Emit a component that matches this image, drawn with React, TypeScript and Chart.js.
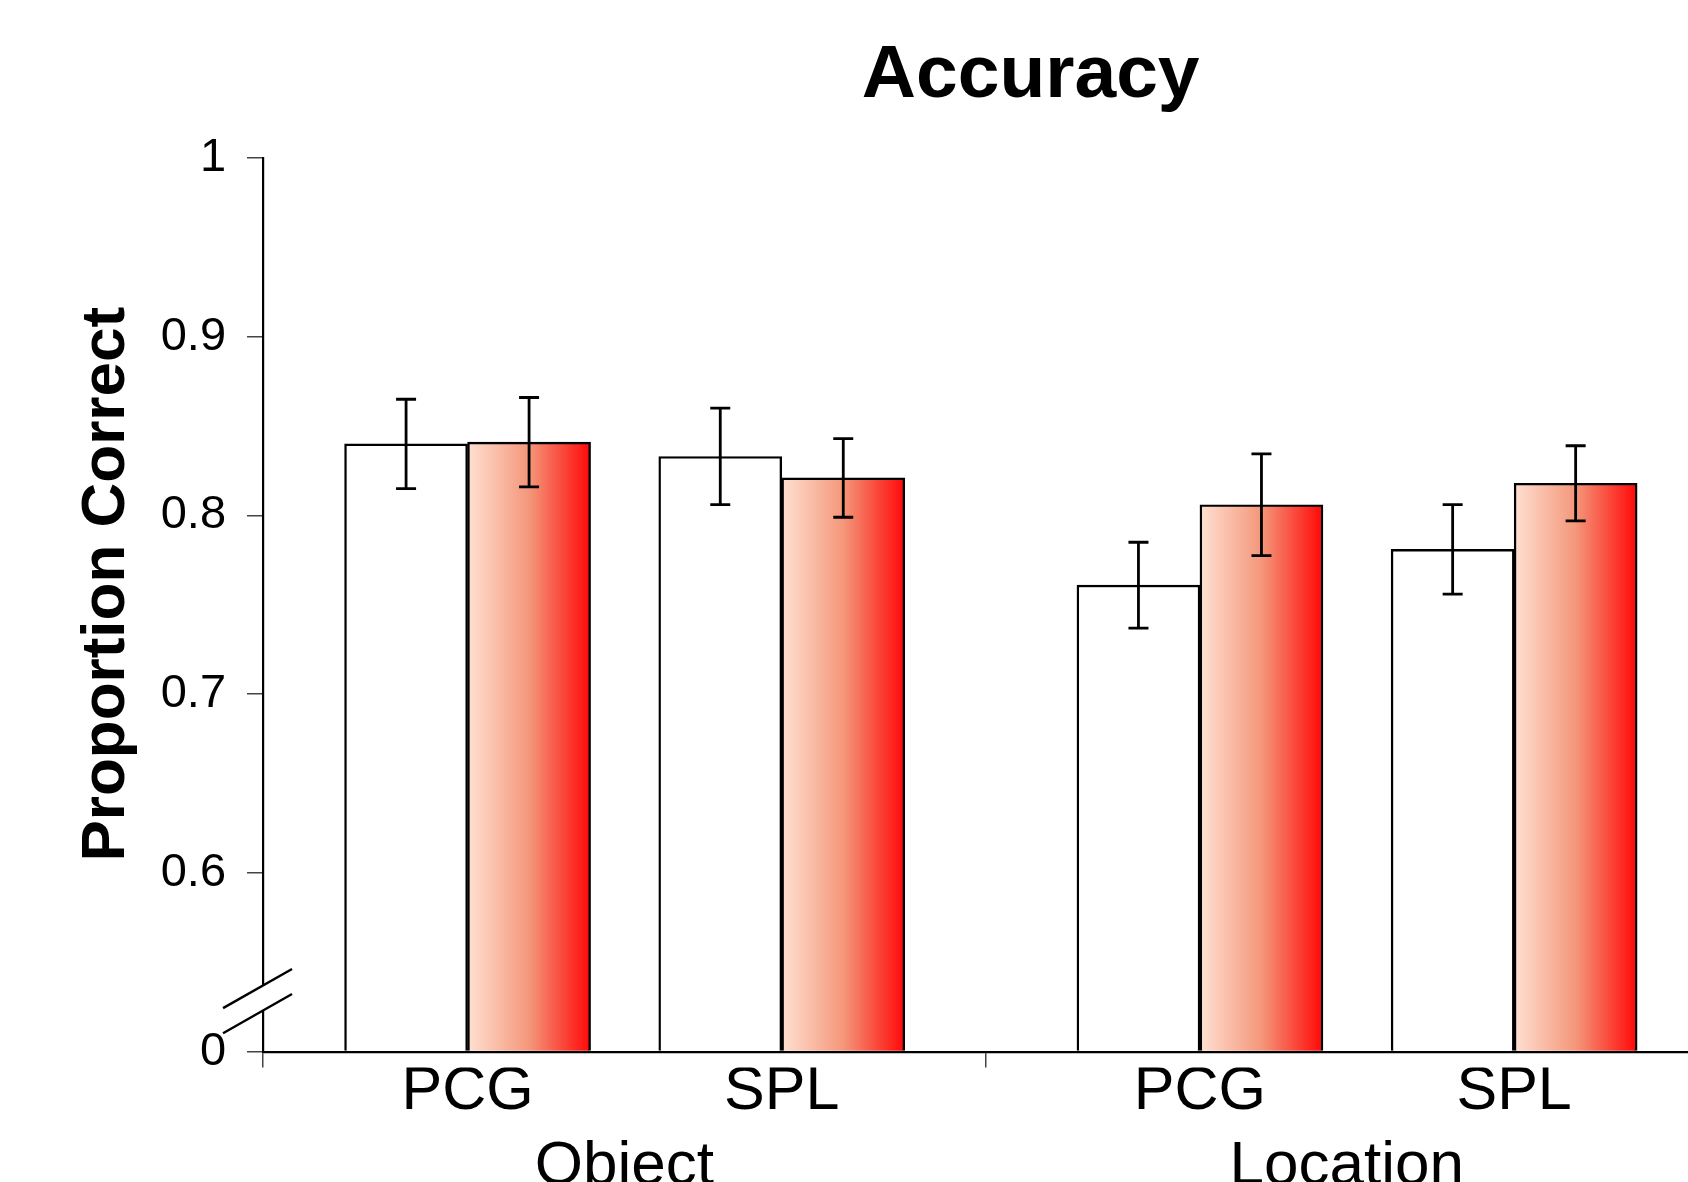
import React, { useEffect, useRef } from 'react';
import { Chart, registerables } from 'chart.js';

Chart.register(...registerables);

// ---------------- data ----------------
const groups = ['Object', 'Location'];
const regions = ['PCG', 'SPL'];
// each bar category: which group, which region
const categoryGroup = [0, 0, 1, 1];
const categoryRegion = [0, 1, 0, 1];

// white bars
const whiteMeans = [0.840, 0.833, 0.761, 0.781];
const whiteErrors = [0.025, 0.027, 0.024, 0.025];
// red (gradient) bars
const redMeans = [0.841, 0.821, 0.806, 0.818];
const redErrors = [0.025, 0.022, 0.0285, 0.021];

const yTickValues = [0.5, 0.6, 0.7, 0.8, 0.9, 1.0];
const yTickLabels = ['0', '0.6', '0.7', '0.8', '0.9', '1'];

const titleText = 'Accuracy';
const yAxisTitle = 'Proportion Correct';

// ---------------- layout / style ----------------
const FONT = '"Liberation Sans", Arial, Helvetica, sans-serif';
const Y_MIN = 0.5;
const Y_MAX = 1.0;
const BREAK_UPPER = 0.537;
const BREAK_LOWER = 0.523;
const GROUP_STRIDE = 2.331; // category units between same region in consecutive groups
const X_MIN = -0.651;
const X_MAX = 3.948;
const BAR_W = 123;
const CANVAS_W = 2080;
const CANVAS_H = 1219;
const RIGHT_MARGIN_BOX = 213.7;
const Y_TITLE_X = 107;
const GRADIENT_STOPS: [number, string][] = [
  [0, '#FFE0D2'],
  [0.5, '#F4977A'],
  [1, '#FF0808'],
];

const gradientPlugin = {
  id: 'barGradient',
  beforeDatasetsDraw(chart: any) {
    const { ctx } = chart;
    const meta = chart.getDatasetMeta(1);
    meta.data.forEach((el: any) => {
      const left = el.x - el.width / 2;
      const right = el.x + el.width / 2;
      const g = ctx.createLinearGradient(left, 0, right, 0);
      GRADIENT_STOPS.forEach(([o, c]) => g.addColorStop(o, c));
      el.options = Object.assign({}, el.options, { backgroundColor: g });
    });
  },
};

const errorBarPlugin = {
  id: 'errorBars',
  afterDatasetsDraw(chart: any) {
    const { ctx } = chart;
    const yScale = chart.scales.y;
    const means = [whiteMeans, redMeans];
    const errs = [whiteErrors, redErrors];
    ctx.save();
    ctx.strokeStyle = '#000';
    ctx.lineWidth = 2.8;
    [0, 1].forEach((di) => {
      const meta = chart.getDatasetMeta(di);
      meta.data.forEach((el: any, i: number) => {
        const x = el.x;
        const yT = yScale.getPixelForValue(means[di][i] + errs[di][i]);
        const yB = yScale.getPixelForValue(means[di][i] - errs[di][i]);
        ctx.beginPath();
        ctx.moveTo(x, yT);
        ctx.lineTo(x, yB);
        ctx.moveTo(x - 10, yT);
        ctx.lineTo(x + 10, yT);
        ctx.moveTo(x - 10, yB);
        ctx.lineTo(x + 10, yB);
        ctx.stroke();
      });
    });
    ctx.restore();
  },
};

const axisBreakPlugin = {
  id: 'axisBreak',
  afterDraw(chart: any) {
    const { ctx, chartArea } = chart;
    const yScale = chart.scales.y;
    const x0 = chartArea.left;
    const yA = yScale.getPixelForValue(BREAK_UPPER);
    const yB = yScale.getPixelForValue(BREAK_LOWER);
    ctx.save();
    ctx.fillStyle = '#fff';
    ctx.fillRect(x0 - 3, yA, 6, yB - yA);
    ctx.strokeStyle = '#000';
    ctx.lineWidth = 2.4;
    const slope = 0.567;
    [yA, yB].forEach((yc) => {
      ctx.beginPath();
      ctx.moveTo(x0 - 40, yc + 40 * slope);
      ctx.lineTo(x0 + 29, yc - 29 * slope);
      ctx.stroke();
    });
    // y-axis title, centred on the unbroken part of the axis
    const yMid = (chartArea.top + yB) / 2;
    ctx.translate(Y_TITLE_X, yMid);
    ctx.rotate(-Math.PI / 2);
    ctx.fillStyle = '#000';
    ctx.font = `bold 62px ${FONT}`;
    ctx.textAlign = 'center';
    ctx.textBaseline = 'middle';
    ctx.fillText(yAxisTitle, 0, 0);
    ctx.restore();
  },
};

export default function App() {
  const ref = useRef<HTMLCanvasElement>(null);

  useEffect(() => {
    const canvas = ref.current;
    if (!canvas) return;
    Chart.defaults.font.family = FONT;
    Chart.defaults.color = '#000';

    const positions = categoryGroup.map((g, i) => g * GROUP_STRIDE + categoryRegion[i]);

    const chart = new Chart(canvas, {
      type: 'bar',
      data: {
        datasets: [
          {
            label: 'white',
            data: positions.map((x, i) => ({ x, y: whiteMeans[i] })),
            backgroundColor: '#ffffff',
            borderColor: '#000000',
            borderWidth: 2.4,
            base: Y_MIN,
            barThickness: BAR_W,
            xAxisID: 'x',
            yAxisID: 'y',
          },
          {
            label: 'red',
            data: positions.map((x, i) => ({ x, y: redMeans[i] })),
            backgroundColor: '#F4977A',
            borderColor: '#000000',
            borderWidth: 2.4,
            base: Y_MIN,
            barThickness: BAR_W,
            xAxisID: 'x',
            yAxisID: 'y',
          },
        ],
      } as any,
      options: {
        responsive: false,
        animation: false,
        events: [],
        layout: {
          padding: { left: 139.7, right: CANVAS_W - 1708 - RIGHT_MARGIN_BOX, top: 0, bottom: 2.8 },
        },
        plugins: {
          legend: { display: false },
          tooltip: { enabled: false },
          title: {
            display: true,
            text: titleText,
            color: '#000',
            font: { size: 75, weight: 'bold', family: FONT },
            padding: { top: 31.8, bottom: 36.2 },
          },
        },
        scales: {
          y: {
            type: 'linear',
            position: 'left',
            min: Y_MIN,
            max: Y_MAX,
            beginAtZero: false,
            afterBuildTicks: (s: any) => {
              s.ticks = yTickValues.map((v) => ({ value: v }));
            },
            ticks: {
              callback: (_v: any, i: number) => yTickLabels[i],
              font: { size: 47, family: FONT },
              color: '#000',
              padding: 21,
              autoSkip: false,
            },
            grid: { drawOnChartArea: false, tickLength: 16, color: '#444', lineWidth: 1.5 },
            border: { display: true, color: '#000', width: 2.2 },
          },
          yPad: {
            type: 'linear',
            position: 'right',
            display: true,
            grid: { display: false, drawTicks: false },
            ticks: { display: false },
            border: { display: false },
            afterFit: (s: any) => {
              s.width = RIGHT_MARGIN_BOX;
            },
          },
          xTicks: {
            type: 'category',
            position: 'bottom',
            labels: groups,
            offset: true,
            weight: 0,
            grid: { offset: true, drawOnChartArea: false, tickLength: 16, color: '#444', lineWidth: 1.5 },
            ticks: { display: false },
            border: { display: true, color: '#000', width: 2.2 },
          },
          x: {
            type: 'linear',
            position: 'bottom',
            weight: 1,
            min: X_MIN,
            max: X_MAX,
            offset: false,
            afterBuildTicks: (s: any) => {
              s.ticks = positions.map((v) => ({ value: v }));
            },
            ticks: {
              callback: (_v: any, i: number) => regions[categoryRegion[i]],
              font: { size: 61, family: FONT },
              color: '#000',
              padding: -11.9,
              autoSkip: false,
              maxRotation: 0,
              minRotation: 0,
            },
            grid: { display: false, drawTicks: false, offset: false },
            border: { display: false },
          },
          xGroup: {
            type: 'category',
            position: 'bottom',
            weight: 2,
            labels: groups,
            offset: true,
            grid: { display: false, drawTicks: false },
            border: { display: false },
            ticks: {
              font: { size: 62, family: FONT },
              color: '#000',
              padding: 12.4,
              autoSkip: false,
              maxRotation: 0,
              minRotation: 0,
            },
          },
        },
      } as any,
      plugins: [gradientPlugin, errorBarPlugin, axisBreakPlugin],
    });

    return () => chart.destroy();
  }, []);

  return (
    <div
      style={{
        position: 'fixed',
        left: 0,
        top: 0,
        width: 1688,
        height: 1182,
        overflow: 'hidden',
        background: '#ffffff',
      }}
    >
      <canvas ref={ref} width={CANVAS_W} height={CANVAS_H} style={{ display: 'block' }} />
    </div>
  );
}
